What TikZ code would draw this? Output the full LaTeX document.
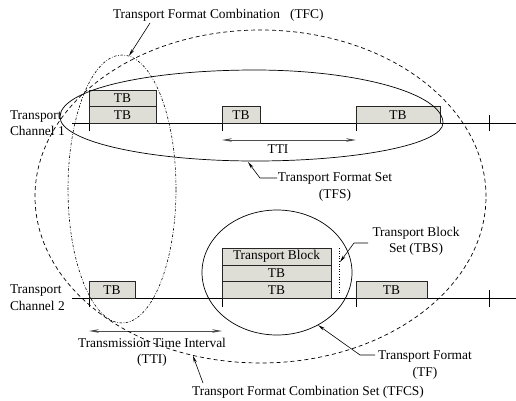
\documentclass[tikz,border=0pt]{standalone}
\usepackage{fontspec}
\setmainfont{Liberation Serif}
\usetikzlibrary{arrows.meta,shapes.geometric}
\definecolor{boxfill}{RGB}{222,222,214}
\begin{document}
\begin{tikzpicture}[x=1pt,y=-1pt,
  font=\fontsize{13.4}{16.5}\selectfont,
  tb/.style={draw=black!85, fill=boxfill, line width=0.8pt, inner sep=0pt, outer sep=0pt,
             minimum height=16.5pt, anchor=south west},
  chan/.style={draw=black, line width=0.8pt},
  tick/.style={draw=black, line width=0.8pt},
  lbl/.style={inner sep=0pt, outer sep=0pt, align=center},
  leader/.style={draw=black, line width=0.6pt, -{Stealth[length=7pt,width=3pt]}},
  ttiarrow/.style={draw=black!70, line width=0.8pt, {Stealth[length=10pt,width=3.6pt]}-{Stealth[length=10pt,width=3.6pt]}},
  solidell/.style={draw=black, line width=0.7pt},
  tfcell/.style={ellipse, draw=black, line width=0.6pt, inner sep=0pt,
                 dash pattern=on 2.5pt off 1.6pt on 0.7pt off 1.6pt},
  tfcsell/.style={ellipse, draw=black, line width=0.7pt, inner sep=0pt,
                 dash pattern=on 4pt off 3pt},
]
\useasboundingbox (0,0) rectangle (516,400);

% channel lines
\coordinate (c1s) at (72,123);  \coordinate (c1e) at (516,123);
\coordinate (c2s) at (72,298);  \coordinate (c2e) at (516,298);
\draw[chan] (c1s) -- (c1e);
\draw[chan] (c2s) -- (c2e);

% ticks channel 1
\draw[tick] (89,123) -- (89,131);
\draw[tick] (222,123) -- (222,131);
\draw[tick] (356,123) -- (356,131);
\draw[tick] (489,115) -- (489,131);
% ticks channel 2
\draw[tick] (89,298) -- (89,307);
\draw[tick] (222,298) -- (222,307);
\draw[tick] (356,298) -- (356,307);
\draw[tick] (489,290) -- (489,307);

% boxes channel 1
\node[tb, minimum width=67pt] (c1a) at (89,123) {TB};
\node[tb, minimum width=67pt] (c1b) at (89,106.5) {TB};
\node[tb, minimum width=38pt] (c1c) at (222,123) {TB};
\node[tb, minimum width=84pt] (c1d) at (356,123) {TB};
% boxes channel 2
\node[tb, minimum width=46pt] (c2a) at (89,298) {TB};
\node[tb, minimum width=109pt] (c2b) at (222,298) {TB};
\node[tb, minimum width=109pt] (c2c) at (222,281.5) {TB};
\node[tb, minimum width=109pt] (c2d) at (222,265) {Transport Block};
\node[tb, minimum width=71pt] (c2e) at (356,298) {TB};

% TBS dotted marker
\coordinate (tbsT) at (339,248);
\coordinate (tbsB) at (339,294);
\draw[black, line width=0.6pt, dotted] (tbsT) -- (tbsB);

% TTI arrows
\coordinate (t1L) at (222,140); \coordinate (t1R) at (356,140);
\draw[ttiarrow] (t1L) -- (t1R);
\coordinate (t2L) at (89,331); \coordinate (t2R) at (222,331);
\draw[ttiarrow] (t2L) -- (t2R);

% TFS egg-shaped ellipse
\draw[solidell] (60,117) .. controls (60,89.4) and (147.4,70) .. (255,70)
  .. controls (358.8,70) and (443,93.7) .. (443,123)
  .. controls (443,144) and (358.8,161) .. (255,161)
  .. controls (147.4,161) and (60,141.3) .. (60,117) -- cycle;

% TF ellipse
\node[ellipse, solidell, inner sep=0pt, minimum width=150pt, minimum height=125pt] (tfell) at (277,272.5) {};
% TFC ellipse
\node[tfcell, minimum width=108pt, minimum height=268pt] (tfcell) at (122,189) {};
% TFCS ellipse
\node[tfcsell, minimum width=451pt, minimum height=333pt] (tfcsell) at (260.5,196.5) {};

% labels
\node[lbl, anchor=base west] (tfclbl) at (113,18.5) {Transport Format Combination\hspace{0.75em}(TFC)};
\node[lbl, anchor=north west, align=left] (ch1) at (10,110.3) {Transport\\Channel 1};
\node[lbl, anchor=north west, align=left] (ch2) at (10,284.8) {Transport\\Channel 2};
\node[lbl, anchor=base] (tti1) at (278,153) {TTI};
\node[lbl, anchor=north] (tfslbl) at (335,172.8) {Transport Format Set\\(TFS)};
\node[lbl, anchor=north] (tbslbl) at (416,226.8) {Transport Block\\Set (TBS)};
\node[lbl, anchor=north] (tflbl) at (425,350.8) {Transport Format\\(TF)};
\node[lbl, anchor=north] (tti2) at (152,337.8) {Transmission Time Interval\\(TTI)};
\node[lbl, anchor=base] (tfcslbl) at (308,395) {Transport Format Combination Set (TFCS)};

% leaders
\coordinate (tfcTail) at (150,23);
\draw[leader] (tfcTail) -- (tfcell.87);

\coordinate (tfsEnd) at (277,178);
\coordinate (tfsElb) at (260,178);
\coordinate (tfsTip) at (248,162);
\draw[leader] (tfsEnd) -- (tfsElb) -- (tfsTip);

\coordinate (tbsEnd) at (368,243);
\coordinate (tbsElb) at (354,243);
\coordinate (tbsTip) at (340,262);
\draw[leader] (tbsEnd) -- (tbsElb) -- (tbsTip);

\coordinate (tfEnd) at (375,355);
\coordinate (tfElb) at (360,355);
\draw[leader] (tfEnd) -- (tfElb) -- (tfell.-52);

\coordinate (tfcsTail) at (203,383);
\draw[leader] (tfcsTail) -- (tfcsell.-113);
\end{tikzpicture}
\end{document}
